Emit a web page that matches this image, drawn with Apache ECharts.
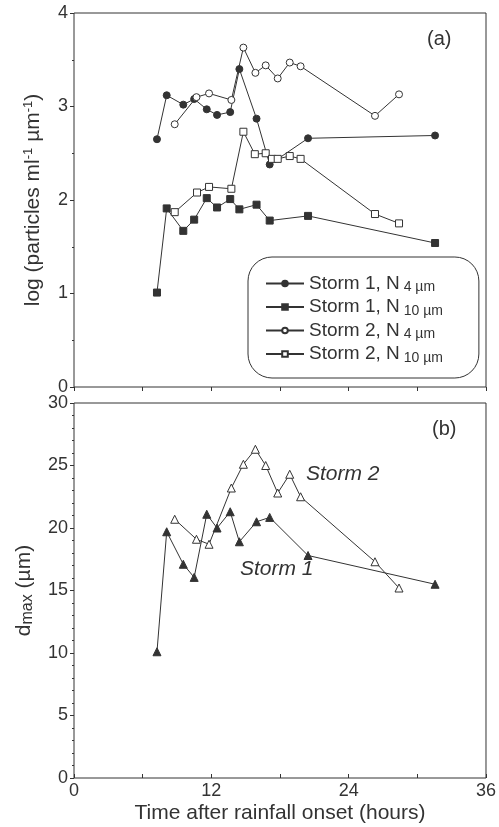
<!DOCTYPE html>
<html>
<head>
<meta charset="utf-8">
<script src="https://cdn.jsdelivr.net/npm/echarts@6/dist/echarts.min.js"></script>
<style>html,body{margin:0;padding:0;background:#fff}#c{width:499px;height:827px}</style>
</head>
<body>
<div id="c"></div>
<script>
// ---- data ----
const t1 = [7.25, 8.1, 9.55, 10.5, 11.6, 12.5, 13.65, 14.45, 15.95, 17.1, 20.45, 31.55];
const s1N4 = [2.65, 3.12, 3.02, 3.08, 2.97, 2.91, 2.94, 3.40, 2.87, 2.38, 2.66, 2.69];
const s1N10 = [1.01, 1.91, 1.67, 1.79, 2.02, 1.92, 2.01, 1.90, 1.95, 1.78, 1.83, 1.54];
const t2 = [8.8, 10.7, 11.8, 13.75, 14.8, 15.85, 16.75, 17.8, 18.85, 19.8, 26.3, 28.4];
const s2N4 = [2.81, 3.10, 3.14, 3.07, 3.63, 3.36, 3.44, 3.30, 3.47, 3.43, 2.90, 3.13];
const t2b = [8.8, 10.75, 11.8, 13.75, 14.8, 15.8, 16.75, 17.3, 17.8, 18.85, 19.8, 26.3, 28.4];
const s2N10 = [1.87, 2.08, 2.14, 2.12, 2.73, 2.49, 2.50, 2.44, 2.44, 2.47, 2.44, 1.85, 1.75];
const d1 = [10.1, 19.7, 17.1, 16.05, 21.1, 20.0, 21.3, 18.9, 20.5, 20.85, 17.8, 15.5];
const d2 = [20.7, 19.1, 18.7, 23.2, 25.1, 26.3, 25.0, 22.8, 24.3, 22.5, 17.3, 15.2];
const xTicks = [0, 12, 24, 36];
const legendNames = ['Storm 1, N 4 µm', 'Storm 1, N 10 µm', 'Storm 2, N 4 µm', 'Storm 2, N 10 µm'];

const zip = (xs, ys) => xs.map((x, i) => [x, ys[i]]);
const INK = '#333';
const FONT = "'Liberation Sans', Arial, Helvetica, sans-serif";
const FS = 18;      // tick labels
const FN = 21;      // axis names
const FL = 19;      // legend

function lineSeries(name, xi, yi, data, symbol, filled, size) {
  return {
    name, type: 'line', xAxisIndex: xi, yAxisIndex: yi, data,
    symbol, symbolSize: size, showSymbol: true,
    lineStyle: { color: INK, width: 1 },
    itemStyle: { color: filled ? INK : '#fff', borderColor: INK, borderWidth: 1 },
    emphasis: { disabled: true }, z: filled ? 3 : 4, animation: false
  };
}

const axisTextStyle = { color: INK, fontSize: FS, fontFamily: FONT };

const option = {
  animation: false,
  textStyle: { fontFamily: FONT },
  grid: [
    { left: 74, right: 13, top: 13, height: 374, show: true, borderColor: INK, borderWidth: 1, backgroundColor: 'transparent' },
    { left: 74, right: 13, top: 403, height: 375, show: true, borderColor: INK, borderWidth: 1, backgroundColor: 'transparent' }
  ],
  title: [
    { text: '(a)', left: 422, top: 24, textStyle: { color: INK, fontSize: 20, fontWeight: 'normal', fontFamily: FONT } },
    { text: '(b)', left: 427, top: 414, textStyle: { color: INK, fontSize: 20, fontWeight: 'normal', fontFamily: FONT } }
  ],
  xAxis: [
    { type: 'value', gridIndex: 0, min: 0, max: 36, interval: 6, position: 'top',
      axisLine: { show: false }, axisTick: { show: true, inside: true, length: 4, lineStyle: { color: INK } },
      axisLabel: { show: false }, splitLine: { show: false } },
    { type: 'value', gridIndex: 1, min: 0, max: 36, interval: 12, position: 'bottom',
      axisLine: { show: false }, axisTick: { show: true, inside: true, length: 4, lineStyle: { color: INK } },
      minorTick: { show: true, splitNumber: 2, length: 4, lineStyle: { color: INK } },
      axisLabel: { ...axisTextStyle, margin: 4, formatter: v => xTicks.includes(v) ? String(v) : '' },
      splitLine: { show: false },
      name: 'Time after rainfall onset (hours)', nameLocation: 'middle', nameGap: 25,
      nameTextStyle: { ...axisTextStyle, fontSize: FN } }
  ],
  yAxis: [
    { type: 'value', gridIndex: 0, min: 0, max: 4, interval: 1,
      axisLine: { show: false }, axisTick: { show: true, inside: false, length: 4, lineStyle: { color: INK } },
      minorTick: { show: true, splitNumber: 2, length: 2, lineStyle: { color: INK } },
      axisLabel: { ...axisTextStyle, margin: 6 }, splitLine: { show: false },
      name: '{a|log (particles ml}{s|-1}{a| µm}{s|-1}{a|)}', nameLocation: 'middle', nameGap: 30,
      nameTextStyle: { ...axisTextStyle, fontSize: FN, rich: {
        a: { fontSize: FN, color: INK, fontFamily: FONT },
        s: { fontSize: 13, color: INK, fontFamily: FONT, padding: [0, 0, 9, 0] } } } },
    { type: 'value', gridIndex: 1, min: 0, max: 30, interval: 5,
      axisLine: { show: false }, axisTick: { show: true, inside: false, length: 4, lineStyle: { color: INK } },
      minorTick: { show: true, splitNumber: 5, length: 2, lineStyle: { color: INK } },
      axisLabel: { ...axisTextStyle, margin: 6 }, splitLine: { show: false },
      name: '{a|d}{s|max}{a| (µm)}', nameLocation: 'middle', nameGap: 38,
      nameTextStyle: { ...axisTextStyle, fontSize: FN, rich: {
        a: { fontSize: FN, color: INK, fontFamily: FONT },
        s: { fontSize: 16, color: INK, fontFamily: FONT, padding: [7, 0, 0, 0] } } } }
  ],
  legend: {
    orient: 'vertical', left: 248, top: 257,
    padding: [17, 36, 13, 17], itemGap: 3, itemWidth: 38, itemHeight: 7,
    borderColor: INK, borderWidth: 1, borderRadius: 24, backgroundColor: '#fff',
    data: legendNames,
    formatter: n => {
      const m = n.match(/^(.*N) (.*)$/);
      return '{a|' + m[1] + '}{s| ' + m[2] + '}';
    },
    textStyle: { color: INK, fontFamily: FONT, rich: {
      a: { fontSize: FL, color: INK, fontFamily: FONT, lineHeight: 21 },
      s: { fontSize: 14, color: INK, fontFamily: FONT, padding: [8, 0, 0, 0] } } },
    selectedMode: false
  },
  graphic: [
    { type: 'text', left: 306, top: 464, style: { text: 'Storm 2', fill: INK, font: 'italic 21px ' + FONT } },
    { type: 'text', left: 240, top: 559, style: { text: 'Storm 1', fill: INK, font: 'italic 21px ' + FONT } }
  ],
  series: [
    lineSeries(legendNames[0], 0, 0, zip(t1, s1N4), 'circle', true, 7),
    lineSeries(legendNames[1], 0, 0, zip(t1, s1N10), 'rect', true, 7),
    lineSeries(legendNames[2], 0, 0, zip(t2, s2N4), 'circle', false, 7),
    lineSeries(legendNames[3], 0, 0, zip(t2b, s2N10), 'rect', false, 7),
    lineSeries('Storm 1 dmax', 1, 1, zip(t1, d1), 'triangle', true, 8),
    lineSeries('Storm 2 dmax', 1, 1, zip(t2, d2), 'triangle', false, 8)
  ]
};

const chart = echarts.init(document.getElementById('c'), null, { renderer: 'canvas' });
chart.setOption(option);
</script>
</body>
</html>
